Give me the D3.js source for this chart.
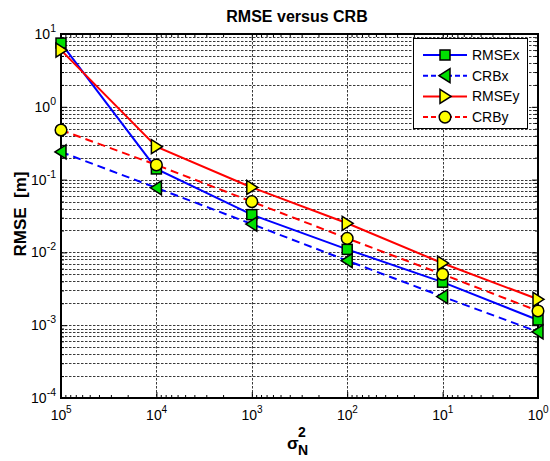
<!DOCTYPE html>
<html>
<head>
<meta charset="utf-8">
<script src="https://cdn.jsdelivr.net/npm/d3@7"></script>
<style>
  html, body { margin: 0; padding: 0; background: #fff; }
  svg { display: block; font-family: "Liberation Sans", Arial, sans-serif; }
  text { white-space: pre; }
</style>
</head>
<body>
<svg id="chart" width="550" height="461"></svg>
<script>
// Noise variance (sigma_N^2) at each simulation point
const sigmaN2 = [1e5, 1e4, 1e3, 1e2, 1e1, 1e0];

// Error values in metres
const rmseX = [7.5, 0.14, 0.033, 0.011, 0.0039, 0.00118];
const crbX  = [0.24, 0.077, 0.0245, 0.0077, 0.00247, 0.00081];
const rmseY = [6.0, 0.283, 0.078, 0.0251, 0.0071, 0.00227];
const crbY  = [0.48, 0.159, 0.0498, 0.0156, 0.0050, 0.00157];

const seriesNames = ["RMSEx", "CRBx", "RMSEy", "CRBy"];

// Axis decades as exponents of ten
const xTickExps = [5, 4, 3, 2, 1, 0];
const yTickExps = [1, 0, -1, -2, -3, -4];

const titleText = "RMSE versus CRB";
const yLabelText = "RMSE  [m]";

const svg = d3.select("#chart");
const M = { left: 61, top: 34, right: 538, bottom: 398 };

const x = d3.scaleLog().domain([1e5, 1e0]).range([M.left, M.right]);
const y = d3.scaleLog().domain([1e-4, 1e1]).range([M.bottom, M.top]);

// Minor tick positions (2..9 within each decade)
function minorValues(lo, hi) {
  const out = [];
  for (let e = lo; e < hi; e++) {
    for (let k = 2; k <= 9; k++) out.push(k * Math.pow(10, e));
  }
  return out;
}
const xMinor = minorValues(0, 5);
const yMinor = minorValues(-4, 1);
const xMajor = xTickExps.map(e => Math.pow(10, e));
const yMajor = yTickExps.map(e => Math.pow(10, e));

// Grid
const grid = svg.append("g").attr("stroke", "#3a3a3a").attr("stroke-width", 1)
  .attr("stroke-dasharray", "2.5,1.5").attr("fill", "none");
grid.selectAll("line.gy").data(yMajor.concat(yMinor).filter(v => v > 1e-4 && v < 1e1))
  .join("line")
  .attr("x1", M.left).attr("x2", M.right)
  .attr("y1", d => Math.round(y(d)) + 0.5).attr("y2", d => Math.round(y(d)) + 0.5);
grid.selectAll("line.gx").data(xMajor.filter(v => v < 1e5 && v > 1e0))
  .join("line")
  .attr("y1", M.top).attr("y2", M.bottom)
  .attr("x1", d => Math.round(x(d)) + 0.5).attr("x2", d => Math.round(x(d)) + 0.5);

// Axes with inward ticks on all four sides
function tickAxis(gen, scale, vals, size, transform) {
  svg.append("g").attr("transform", transform)
    .call(gen(scale).tickValues(vals).tickSize(size).tickFormat(""))
    .call(g => g.select(".domain").remove())
    .call(g => g.selectAll("line").attr("stroke", "#000").attr("stroke-width", 1));
}
tickAxis(d3.axisBottom, x, xMajor, -6, `translate(0,${M.bottom})`);
tickAxis(d3.axisBottom, x, xMinor, -3, `translate(0,${M.bottom})`);
tickAxis(d3.axisTop, x, xMajor, -6, `translate(0,${M.top})`);
tickAxis(d3.axisTop, x, xMinor, -3, `translate(0,${M.top})`);
tickAxis(d3.axisLeft, y, yMajor, -6, `translate(${M.left},0)`);
tickAxis(d3.axisLeft, y, yMinor, -3, `translate(${M.left},0)`);
tickAxis(d3.axisRight, y, yMajor, -6, `translate(${M.right},0)`);
tickAxis(d3.axisRight, y, yMinor, -3, `translate(${M.right},0)`);

// Plot frame
svg.append("rect")
  .attr("x", M.left).attr("y", M.top)
  .attr("width", M.right - M.left).attr("height", M.bottom - M.top)
  .attr("fill", "none").attr("stroke", "#000").attr("stroke-width", 2);

// Power-of-ten tick labels: x labels centre the "10" under the tick
xTickExps.forEach(e => {
  const cx = x(Math.pow(10, e)) - 2.5;
  svg.append("text").attr("x", cx).attr("y", 420).attr("text-anchor", "middle")
    .attr("font-size", 14).text("10");
  svg.append("text").attr("x", cx + 7.6).attr("y", 413).attr("font-size", 10)
    .text(e);
});
yTickExps.forEach(e => {
  const t = svg.append("text").attr("x", 56).attr("y", y(Math.pow(10, e)) + 5)
    .attr("text-anchor", "end").attr("font-size", 14);
  t.append("tspan").text("10");
  t.append("tspan").attr("dy", -7).attr("font-size", 10.5).text(e);
});

// Title and axis labels
svg.append("text").attr("x", 297).attr("y", 22).attr("text-anchor", "middle")
  .attr("font-size", 16).attr("font-weight", "bold").text(titleText);
svg.append("text").attr("transform", `translate(26,${(M.top + M.bottom) / 2 - 2}) rotate(-90)`)
  .attr("text-anchor", "middle").attr("font-size", 17).attr("font-weight", "bold")
  .text(yLabelText);
const xl = svg.append("g").attr("transform", "translate(287,449)")
  .attr("font-weight", "bold").attr("font-size", 17);
xl.append("text").attr("x", 0).attr("y", 0).text("σ");
xl.append("text").attr("x", 11).attr("y", -12).attr("font-size", 14).text("2");
xl.append("text").attr("x", 11).attr("y", 6).attr("font-size", 14).text("N");

// Marker shapes
const GREEN = "#00e000", YELLOW = "#ffff00";
function drawMarker(g, kind, cx, cy) {
  if (kind === "square") {
    g.append("rect").attr("x", cx - 5).attr("y", cy - 5).attr("width", 10).attr("height", 10)
      .attr("fill", GREEN).attr("stroke", "#000").attr("stroke-width", 1.5);
  } else if (kind === "left") {
    g.append("path").attr("d", `M${cx - 6},${cy} L${cx + 5},${cy - 7} L${cx + 5},${cy + 7} Z`)
      .attr("fill", GREEN).attr("stroke", "#000").attr("stroke-width", 1.5);
  } else if (kind === "right") {
    g.append("path").attr("d", `M${cx + 6},${cy} L${cx - 5},${cy - 7} L${cx - 5},${cy + 7} Z`)
      .attr("fill", YELLOW).attr("stroke", "#000").attr("stroke-width", 1.5);
  } else {
    g.append("circle").attr("cx", cx).attr("cy", cy).attr("r", 5.8)
      .attr("fill", YELLOW).attr("stroke", "#000").attr("stroke-width", 1.5);
  }
}

const series = [
  { name: seriesNames[0], values: rmseX, color: "#0000ff", dash: null, marker: "square" },
  { name: seriesNames[1], values: crbX,  color: "#0000ff", dash: "8,5", marker: "left" },
  { name: seriesNames[2], values: rmseY, color: "#ff0000", dash: null, marker: "right" },
  { name: seriesNames[3], values: crbY,  color: "#ff0000", dash: "8,5", marker: "circle" }
];

const line = d3.line().x(d => x(d[0])).y(d => y(d[1]));
series.forEach(s => {
  const pts = sigmaN2.map((v, i) => [v, s.values[i]]);
  const g = svg.append("g");
  g.append("path").datum(pts).attr("d", line)
    .attr("fill", "none").attr("stroke", s.color).attr("stroke-width", 2)
    .attr("stroke-dasharray", s.dash);
  pts.forEach(p => drawMarker(g, s.marker, x(p[0]), y(p[1])));
});

// Legend
const lg = svg.append("g");
lg.append("rect").attr("x", 413.5).attr("y", 38.5).attr("width", 114).attr("height", 90)
  .attr("fill", "#fff").attr("stroke", "#000").attr("stroke-width", 1);
series.forEach((s, i) => {
  const cy = 55 + i * 20.7;
  lg.append("line").attr("x1", 423).attr("x2", 467).attr("y1", cy).attr("y2", cy)
    .attr("stroke", s.color).attr("stroke-width", 2).attr("stroke-dasharray", s.dash ? "5,3" : null);
  drawMarker(lg, s.marker, 445, cy);
  lg.append("text").attr("x", 472).attr("y", cy + 5).attr("font-size", 14).text(s.name);
});
</script>
</body>
</html>
